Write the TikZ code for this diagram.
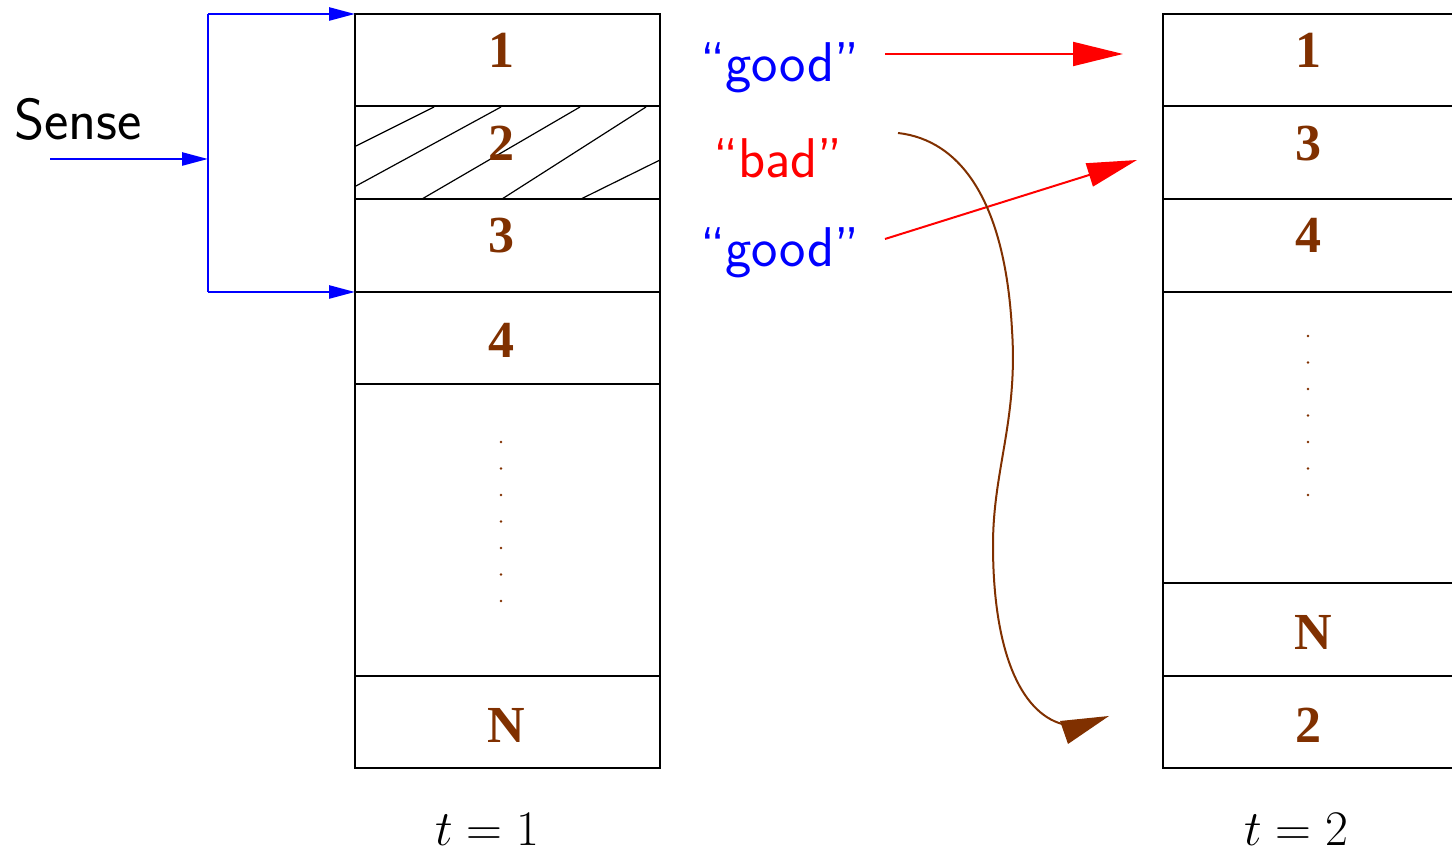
\documentclass[tikz,border=0pt]{standalone}
\usepackage{fontspec}
\newfontfamily\numfont{Liberation Serif}
\usetikzlibrary{arrows.meta}
\definecolor{fbrown}{RGB}{128,48,0}
\definecolor{fblue}{RGB}{0,0,255}
\definecolor{fred}{RGB}{255,0,0}
\begin{document}
\begin{tikzpicture}[x=0.5pt,y=-0.5pt,
  boxline/.style={draw=black,line width=0.6pt},
  hatchline/.style={draw=black,line width=0.6pt},
  rowlabel/.style={anchor=base,inner sep=0pt,text=fbrown,font=\numfont\bfseries\fontsize{26}{30}\selectfont},
  quotelabel/.style={anchor=base,inner sep=0pt,font=\sffamily\fontsize{28}{33}\selectfont},
  senselabel/.style={anchor=base,inner sep=0pt,font=\sffamily\fontsize{29}{34}\selectfont},
  timelabel/.style={anchor=base,inner sep=0pt,font=\fontsize{24}{28}\selectfont},
  bluearrow/.style={draw=fblue,line width=1.3pt,-{Triangle[length=13pt,width=6.5pt]}},
  blueline/.style={draw=fblue,line width=1.3pt},
  redarrow/.style={draw=fred,line width=1pt,-{Triangle[length=25pt,width=12pt]}},
  brownline/.style={draw=fbrown,line width=1pt},
  dotmark/.style={fill=fbrown}
]
\clip (0,0) rectangle (1452,854);
\useasboundingbox (0,0) rectangle (1452,854);

% left column (t=1)
\draw[boxline] (355,14) rectangle (660,768);
\foreach \yy in {106,199,292,384,676} \draw[boxline] (355,\yy) -- (660,\yy);
% hatch of row 2
\draw[hatchline] (356,146) -- (434,107);
\draw[hatchline] (356,186) -- (501,107);
\draw[hatchline] (422,199) -- (580,107);
\draw[hatchline] (502,199) -- (646,107);
\draw[hatchline] (581,199) -- (660,160);

\node[rowlabel] (L1) at (501,68) {1};
\node[rowlabel] (L2) at (501,161) {2};
\node[rowlabel] (L3) at (501,253) {3};
\node[rowlabel] (L4) at (501,358) {4};
\node[rowlabel] (LN) at (506,743) {N};
\foreach \k in {0,...,6} \fill[dotmark] (501,442+26.5*\k) circle (1.4);

% right column (t=2)
\draw[boxline] (1163,14) rectangle (1470,768);
\foreach \yy in {106,199,292,583,676} \draw[boxline] (1163,\yy) -- (1470,\yy);
\node[rowlabel] (R1) at (1308,68) {1};
\node[rowlabel] (R3) at (1308,161) {3};
\node[rowlabel] (R4) at (1308,253) {4};
\node[rowlabel] (RN) at (1313,650) {N};
\node[rowlabel] (R2) at (1308,743) {2};
\foreach \k in {0,...,6} \fill[dotmark] (1308,336+26.5*\k) circle (1.4);

% time labels
\node[timelabel] (t1) at (487,846) {$t=1$};
\node[timelabel] (t2) at (1296,846) {$t=2$};

% sense
\node[senselabel,text=black] (sense) at (78,140) {Sense};
\coordinate (senseStart) at (50,159);
\coordinate (fork) at (208,159);
\coordinate (forkTop) at (208,14);
\coordinate (forkBot) at (208,292);
\coordinate (boxTop) at (355,14);
\coordinate (boxRow4) at (355,292);
\draw[bluearrow] (senseStart) -- (fork);
\draw[blueline] (forkTop) -- (forkBot);
\draw[bluearrow] (forkTop) -- (boxTop);
\draw[bluearrow] (forkBot) -- (boxRow4);

% quality labels
\node[quotelabel,text=fblue] (good1) at (780,82) {``good''};
\node[quotelabel,text=fred] (bad) at (778,178) {``bad''};
\node[quotelabel,text=fblue] (good2) at (780,267) {``good''};

% red arrows
\coordinate (g1s) at (885,54);
\coordinate (g1e) at (1123,54);
\coordinate (g2s) at (885,239);
\coordinate (g2e) at (1137,160);
\draw[redarrow] (g1s) -- (g1e);
\draw[redarrow] (g2s) -- (g2e);

% brown curve for "bad"
\coordinate (bs) at (898,133);
\coordinate (be) at (1062,724);
\draw[brownline] (bs) .. controls (960,140) and (1005,200) .. (1012,330)
   .. controls (1018,420) and (993,470) .. (993,545)
   .. controls (993,650) and (1020,712) .. (be);
\fill[fbrown] (1109,716) -- (1060,721) -- (1068,744) -- cycle;
\end{tikzpicture}
\end{document}
